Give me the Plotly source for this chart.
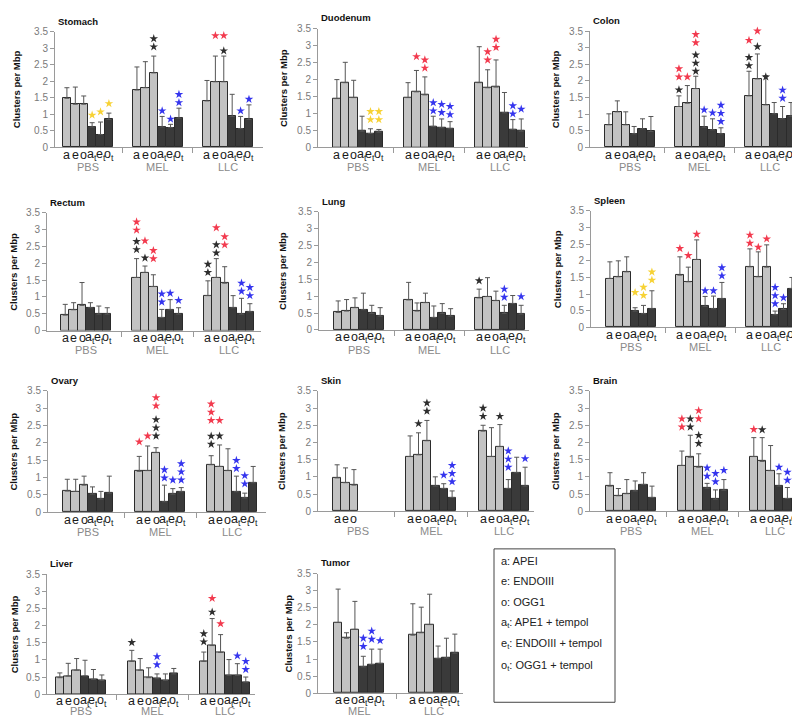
import plotly.graph_objects as go

# ---------------- data ----------------
GROUPS3 = ["PBS", "MEL", "LLC"]
GROUPS2 = ["MEL", "LLC"]
BAR_KEYS = ["a", "e", "o", "at", "et", "ot"]
BAR_LABELS = ["a", "e", "o", "a<sub>t</sub>", "e<sub>t</sub>", "o<sub>t</sub>"]

# mean values, rows = groups, cols = a, e, o, at, et, ot
stomach_mean = [[1.49, 1.31, 1.31, 0.62, 0.39, 0.85],
                [1.74, 1.81, 2.26, 0.62, 0.60, 0.89],
                [1.41, 1.99, 1.99, 0.94, 0.57, 0.85]]
stomach_upper = [[1.81, 1.83, 1.56, 0.75, 0.77, 1.04],
                 [2.44, 2.60, 2.77, 0.94, 0.70, 1.19],
                 [2.03, 2.77, 2.77, 1.61, 0.94, 1.29]]
stomach_stars = [("PBS", "at", "y", 0.98), ("PBS", "et", "y", 1.08), ("PBS", "ot", "y", 1.33),
                 ("MEL", "e", "r", 3.65), ("MEL", "o", "kkrr", 3.05), ("MEL", "at", "b", 1.11),
                 ("MEL", "et", "b", 0.86), ("MEL", "ot", "bb", 1.36),
                 ("LLC", "e", "r", 3.39), ("LLC", "o", "k", 2.93), ("LLC", "o", "r", 3.39),
                 ("LLC", "et", "b", 1.11), ("LLC", "ot", "b", 1.46)]

duodenum_mean = [[1.44, 1.91, 1.47, 0.48, 0.41, 0.45],
                 [1.47, 1.64, 1.55, 0.62, 0.58, 0.55],
                 [1.91, 1.76, 1.78, 1.02, 0.53, 0.48]]
duodenum_upper = [[2.00, 2.51, 1.98, 0.92, 0.55, 0.53],
                  [1.91, 2.27, 2.08, 0.92, 0.84, 0.76],
                  [2.97, 2.29, 2.58, 1.62, 0.82, 0.84]]
duodenum_stars = [("PBS", "et", "yy", 0.82), ("PBS", "ot", "yy", 0.82),
                  ("MEL", "e", "r", 2.68), ("MEL", "o", "rr", 2.34), ("MEL", "at", "bb", 1.08),
                  ("MEL", "et", "bb", 1.03), ("MEL", "ot", "bb", 0.97),
                  ("LLC", "e", "rr", 2.58), ("LLC", "o", "rr", 2.95), ("LLC", "et", "bb", 0.99),
                  ("LLC", "ot", "b", 1.13)]

colon_mean = [[0.68, 1.07, 0.68, 0.41, 0.56, 0.48],
              [1.23, 1.33, 1.77, 0.61, 0.53, 0.41],
              [1.55, 2.06, 1.28, 1.01, 0.86, 0.94]]
colon_upper = [[1.01, 1.40, 1.07, 0.63, 0.86, 0.93],
               [1.55, 1.86, 2.14, 0.94, 0.86, 0.59],
               [2.29, 2.81, 2.16, 1.35, 1.23, 1.35]]
colon_stars = [("MEL", "a", "k", 1.73), ("MEL", "a", "rr", 2.12), ("MEL", "e", "r", 2.12),
               ("MEL", "o", "kkk", 2.29), ("MEL", "o", "rr", 3.15), ("MEL", "at", "b", 1.13),
               ("MEL", "et", "b", 1.04), ("MEL", "ot", "bbb", 0.78),
               ("LLC", "a", "kk", 2.46), ("LLC", "a", "r", 3.22), ("LLC", "e", "k", 3.03),
               ("LLC", "e", "rr", 3.50), ("LLC", "o", "k", 2.12), ("LLC", "et", "bb", 1.48)]

rectum_mean = [[0.46, 0.62, 0.75, 0.68, 0.49, 0.49],
               [1.58, 1.73, 1.31, 0.39, 0.62, 0.49],
               [1.04, 1.58, 1.41, 0.68, 0.49, 0.56]]
rectum_upper = [[0.78, 0.83, 1.43, 0.83, 0.73, 0.68],
                [2.14, 1.92, 1.66, 0.63, 0.92, 0.68],
                [1.48, 2.14, 1.90, 1.04, 0.96, 0.80]]
rectum_stars = [("MEL", "a", "kk", 2.41), ("MEL", "a", "rr", 2.99), ("MEL", "e", "k", 2.16),
                ("MEL", "e", "r", 2.67), ("MEL", "o", "rr", 2.14), ("MEL", "at", "bb", 0.85),
                ("MEL", "et", "b", 1.11), ("MEL", "ot", "b", 0.90),
                ("LLC", "a", "kk", 1.73), ("LLC", "e", "kk", 2.31), ("LLC", "e", "r", 3.06),
                ("LLC", "o", "rr", 2.55), ("LLC", "et", "bb", 1.17), ("LLC", "ot", "bb", 1.04)]

lung_mean = [[0.52, 0.56, 0.66, 0.60, 0.49, 0.41],
             [0.89, 0.56, 0.81, 0.37, 0.49, 0.41],
             [0.95, 0.99, 0.87, 0.49, 0.78, 0.47]]
lung_upper = [[0.86, 0.90, 0.95, 1.09, 0.73, 0.66],
              [1.41, 0.80, 1.09, 0.71, 0.78, 0.63],
              [1.21, 1.55, 1.15, 0.73, 1.02, 0.73]]
lung_stars = [("LLC", "a", "k", 1.46), ("LLC", "at", "bb", 0.97), ("LLC", "ot", "b", 0.99)]

spleen_mean = [[1.47, 1.52, 1.67, 0.49, 0.41, 0.56],
               [1.57, 1.37, 2.04, 0.63, 0.56, 0.86],
               [1.82, 1.52, 1.81, 0.38, 0.54, 1.17]]
spleen_upper = [[1.97, 2.00, 2.12, 0.59, 0.66, 1.10],
                [2.12, 1.81, 2.63, 0.93, 0.94, 1.35],
                [2.36, 2.27, 2.48, 0.49, 0.71, 1.50]]
spleen_stars = [("PBS", "at", "y", 1.05), ("PBS", "et", "yy", 0.96), ("PBS", "ot", "yy", 1.42),
                ("MEL", "a", "r", 2.37), ("MEL", "e", "r", 2.16), ("MEL", "o", "r", 2.80),
                ("MEL", "at", "b", 1.10), ("MEL", "et", "b", 1.10), ("MEL", "ot", "bb", 1.55),
                ("LLC", "a", "rr", 2.53), ("LLC", "e", "r", 2.41), ("LLC", "o", "r", 2.66),
                ("LLC", "at", "bbb", 0.71), ("LLC", "et", "b", 0.89)]

ovary_mean = [[0.61, 0.60, 0.78, 0.52, 0.38, 0.55],
              [1.18, 1.20, 1.72, 0.30, 0.52, 0.59],
              [1.37, 1.32, 1.20, 0.59, 0.41, 0.85]]
ovary_upper = [[0.95, 0.95, 1.04, 0.73, 0.60, 1.04],
               [1.61, 1.91, 1.86, 0.78, 0.68, 0.71],
               [1.63, 1.94, 1.83, 1.04, 0.55, 1.32]]
ovary_stars = [("MEL", "a", "r", 2.03), ("MEL", "e", "r", 2.20), ("MEL", "o", "kkk", 2.20),
               ("MEL", "o", "rr", 3.07), ("MEL", "at", "bb", 0.99), ("MEL", "et", "b", 0.93),
               ("MEL", "ot", "bbb", 0.93),
               ("LLC", "a", "kk", 1.96), ("LLC", "a", "rrr", 2.65), ("LLC", "e", "k", 2.20),
               ("LLC", "e", "r", 2.65), ("LLC", "at", "bb", 1.26), ("LLC", "et", "bb", 0.82)]

skin_mean = [[0.97, 0.83, 0.76, None, None, None],
             [1.59, 1.64, 2.05, 0.73, 0.66, 0.40],
             [2.33, 1.59, 1.88, 0.66, 1.12, 0.73]]
skin_upper = [[1.35, 1.26, 1.21, None, None, None],
              [2.19, 2.28, 2.64, 1.00, 0.80, 0.59],
              [2.50, 2.43, 2.52, 0.92, 1.57, 1.28]]
skin_stars = [("MEL", "e", "k", 2.55), ("MEL", "o", "kk", 2.91), ("MEL", "et", "b", 1.05),
              ("MEL", "ot", "bbb", 0.86),
              ("LLC", "a", "kk", 2.76), ("LLC", "o", "k", 2.76), ("LLC", "at", "bbb", 1.28),
              ("LLC", "ot", "b", 1.53)]

brain_mean = [[0.73, 0.45, 0.51, 0.59, 0.78, 0.40],
              [1.33, 1.57, 1.28, 0.67, 0.35, 0.61],
              [1.59, 1.45, 1.18, 0.73, 0.37, 0.35]]
brain_upper = [[1.12, 0.66, 0.92, 0.88, 1.12, 0.73],
               [1.75, 2.21, 1.67, 0.81, 0.62, 0.92],
               [2.14, 2.14, 1.91, 1.09, 0.69, 0.69]]
brain_stars = [("MEL", "a", "rr", 2.45), ("MEL", "e", "kk", 2.45), ("MEL", "o", "kk", 1.97),
               ("MEL", "o", "rr", 2.69), ("MEL", "at", "bb", 1.02), ("MEL", "et", "bb", 0.86),
               ("MEL", "ot", "b", 1.19),
               ("LLC", "a", "r", 2.38), ("LLC", "e", "k", 2.37), ("LLC", "at", "b", 1.28),
               ("LLC", "et", "bb", 0.90), ("LLC", "ot", "b", 0.91)]

liver_mean = [[0.48, 0.53, 0.70, 0.53, 0.43, 0.40],
              [0.96, 0.70, 0.48, 0.45, 0.40, 0.59],
              [0.96, 1.42, 1.22, 0.55, 0.55, 0.35]]
liver_upper = [[0.62, 0.90, 1.04, 0.99, 0.72, 0.56],
               [1.28, 1.04, 0.77, 0.59, 0.59, 0.75],
               [1.23, 2.21, 1.74, 1.01, 0.89, 0.50]]
liver_stars = [("MEL", "a", "k", 1.51), ("MEL", "at", "bb", 0.86),
               ("LLC", "a", "kk", 1.53), ("LLC", "e", "k", 2.40), ("LLC", "e", "r", 2.80),
               ("LLC", "o", "r", 2.06), ("LLC", "et", "b", 1.12), ("LLC", "ot", "bb", 0.72)]

tumor_mean = [[2.07, 1.61, 1.87, 0.77, 0.84, 0.87],
              [1.70, 1.77, 2.01, 1.01, 1.03, 1.17]]
tumor_upper = [[3.05, 1.77, 2.69, 1.08, 1.29, 1.29],
               [2.62, 2.52, 2.90, 1.38, 1.61, 1.73]]
tumor_stars = [("MEL", "at", "bb", 1.37), ("MEL", "et", "bb", 1.58), ("MEL", "ot", "b", 1.54)]

PANELS = [
    ("Stomach", GROUPS3, stomach_mean, stomach_upper, stomach_stars),
    ("Duodenum", GROUPS3, duodenum_mean, duodenum_upper, duodenum_stars),
    ("Colon", GROUPS3, colon_mean, colon_upper, colon_stars),
    ("Rectum", GROUPS3, rectum_mean, rectum_upper, rectum_stars),
    ("Lung", GROUPS3, lung_mean, lung_upper, lung_stars),
    ("Spleen", GROUPS3, spleen_mean, spleen_upper, spleen_stars),
    ("Ovary", GROUPS3, ovary_mean, ovary_upper, ovary_stars),
    ("Skin", GROUPS3, skin_mean, skin_upper, skin_stars),
    ("Brain", GROUPS3, brain_mean, brain_upper, brain_stars),
    ("Liver", GROUPS3, liver_mean, liver_upper, liver_stars),
    ("Tumor", GROUPS2, tumor_mean, tumor_upper, tumor_stars),
]

LEGEND_LINES = ["a: APEI", "e: ENDOIII", "o: OGG1",
                "a<sub>t</sub>: APE1 + tempol", "e<sub>t</sub>: ENDOIII + tempol",
                "o<sub>t</sub>: OGG1 + tempol"]

Y_TICKS = [0, 0.5, 1, 1.5, 2, 2.5, 3, 3.5]
Y_TICKTEXT = ["0", "0.5", "1", "1.5", "2", "2.5", "3", "3.5"]

# ---------------- layout (pixel boxes of each plot area) ----------------
W, H = 800, 716
BOX = {
    "Stomach": dict(L=47, R=255, top=18.3, bot=135.7, xmin=-0.47, xmax=2.50, tx=8.5),
    "Duodenum": dict(L=310, R=520, top=15.0, bot=135.7, xmin=-0.56, xmax=2.39, tx=275),
    "Colon": dict(L=582, R=790, top=17.3, bot=135.7, xmin=-0.57, xmax=2.40, tx=547),
    "Rectum": dict(L=39, R=253, top=202.3, bot=322.0, xmin=-0.55, xmax=2.45, tx=6),
    "Lung": dict(L=311, R=521, top=201.3, bot=321.3, xmin=-0.57, xmax=2.41, tx=275),
    "Spleen": dict(L=583, R=793, top=200.3, bot=318.7, xmin=-0.57, xmax=2.43, tx=549),
    "Ovary": dict(L=40, R=258, top=383.3, bot=506.7, xmin=-0.56, xmax=2.47, tx=6),
    "Skin": dict(L=310, R=526, top=383.3, bot=505.7, xmin=-0.55, xmax=2.41, tx=273),
    "Brain": dict(L=582, R=797, top=383.3, bot=505.7, xmin=-0.57, xmax=2.42, tx=547),
    "Liver": dict(L=39, R=247, top=570.0, bot=691.7, xmin=-0.47, xmax=2.42, tx=6),
    "Tumor": dict(L=310, R=455, top=569.3, bot=690.7, xmin=-0.55, xmax=1.39, tx=280),
}

FONT = "Arial, Liberation Sans, sans-serif"
LIGHT = "#c3c3c3"
DARK = "#3a3a3a"
OUTLINE = "#2b2b2b"
STAR_COLORS = {"k": "#2e2e2e", "r": "#f23a4e", "b": "#3535ee", "y": "#f7d234"}
BAR_PX = 8.4
STAR_STEP_PX = 8.3


def fx(px):
    return px / W


def fy(py):
    return 1 - py / H


fig = go.Figure()
annotations = []

for k, (name, groups, mean, upper, stars) in enumerate(PANELS, start=1):
    b = BOX[name]
    xid = "x" if k == 1 else f"x{k}"
    yid = "y" if k == 1 else f"y{k}"
    bw = BAR_PX * (b["xmax"] - b["xmin"]) / (b["R"] - b["L"])
    unit_px = (b["bot"] - b["top"]) / 3.5
    step = STAR_STEP_PX / unit_px

    xs, ys, errs, cols = [], [], [], []
    for g, gname in enumerate(groups):
        for i in range(6):
            v = mean[g][i]
            if v is None:
                continue
            pos = g + (i - 2.5) * bw
            xs.append(pos)
            ys.append(v)
            errs.append(round(upper[g][i] - v, 3))
            cols.append(LIGHT if i < 3 else DARK)
            # bar letter under the axis
            annotations.append(dict(text=BAR_LABELS[i], x=pos, y=fy(b["bot"] + 7.5),
                                    xref=xid, yref="paper", xanchor="center",
                                    yanchor="middle", showarrow=False,
                                    font=dict(family=FONT, size=12.5, color="#1a1a1a")))

    fig.add_trace(go.Bar(
        x=xs, y=ys, width=bw, xaxis=xid, yaxis=yid,
        marker=dict(color=cols, line=dict(color=OUTLINE, width=1)),
        error_y=dict(type="data", symmetric=False, array=errs, arrayminus=[0] * len(errs),
                     color="#555555", thickness=1, width=2.5),
        hoverinfo="skip", showlegend=False,
    ))

    sx, sy, sc = [], [], []
    for gname, key, colors, base in stars:
        g = groups.index(gname)
        i = BAR_KEYS.index(key)
        pos = g + (i - 2.5) * bw
        for j, c in enumerate(colors):
            sx.append(pos)
            sy.append(base + j * step)
            sc.append(STAR_COLORS[c])
    if sx:
        fig.add_trace(go.Scatter(
            x=sx, y=sy, mode="markers", xaxis=xid, yaxis=yid, cliponaxis=False,
            marker=dict(symbol="star", size=6.5, color=sc, line=dict(width=0)),
            hoverinfo="skip", showlegend=False,
        ))

    minor_vals = [g + 0.5 for g in range(len(groups) - 1)]
    fig.layout[("xaxis" if k == 1 else f"xaxis{k}")] = dict(
        domain=[fx(b["L"]), fx(b["R"])], range=[b["xmin"], b["xmax"]], anchor=yid,
        showline=True, linecolor="#9a9a9a", linewidth=1, showgrid=False, zeroline=False,
        showticklabels=False, ticks="",
        minor=dict(tickmode="array", tickvals=minor_vals, ticks="outside", ticklen=5,
                   tickcolor="#9a9a9a", tickwidth=1, showgrid=False),
        fixedrange=True,
    )
    fig.layout[("yaxis" if k == 1 else f"yaxis{k}")] = dict(
        domain=[fy(b["bot"]), fy(b["top"])], range=[0, 3.5], anchor=xid,
        showline=True, linecolor="#9a9a9a", linewidth=1, showgrid=False, zeroline=False,
        tickmode="array", tickvals=Y_TICKS, ticktext=Y_TICKTEXT, ticks="outside",
        ticklen=4, tickcolor="#9a9a9a", tickfont=dict(family=FONT, size=10, color="#7a7a7a"),
        fixedrange=True,
    )

    # panel title
    annotations.append(dict(text=f"<b>{name}</b>", x=fx(b["L"] + 1), y=fy(b["top"] - 11),
                            xref="paper", yref="paper", xanchor="left", yanchor="middle",
                            showarrow=False, font=dict(family=FONT, size=9.5, color="#111")))
    # y axis title
    annotations.append(dict(text="<b>Clusters per Mbp</b>", textangle=-90,
                            x=fx(b["tx"]), y=fy((b["top"] + b["bot"]) / 2),
                            xref="paper", yref="paper", xanchor="center", yanchor="middle",
                            showarrow=False, font=dict(family=FONT, size=9.5, color="#111")))
    # group labels
    gy = min(b["bot"] + 20, H - 7)
    for g, gname in enumerate(groups):
        annotations.append(dict(text=gname, x=g, y=fy(gy), xref=xid, yref="paper",
                                xanchor="center", yanchor="middle", showarrow=False,
                                font=dict(family=FONT, size=11, color="#8a8a8a")))

# legend box
LEG_Y = [556, 577, 598, 619, 641, 663]
for line, ly in zip(LEGEND_LINES, LEG_Y):
    annotations.append(dict(text=line, x=fx(491), y=fy(ly), xref="paper", yref="paper",
                            xanchor="left", yanchor="middle", showarrow=False,
                            font=dict(family=FONT, size=11, color="#222")))

fig.update_layout(
    width=W, height=H, margin=dict(l=0, r=0, t=0, b=0),
    paper_bgcolor="white", plot_bgcolor="white", showlegend=False,
    bargap=0, annotations=annotations,
    shapes=[dict(type="rect", xref="paper", yref="paper", x0=fx(486), x1=fx(607),
                 y0=fy(700), y1=fy(544), line=dict(color="#444", width=1))],
    font=dict(family=FONT),
)

fig.write_html("out.html")
